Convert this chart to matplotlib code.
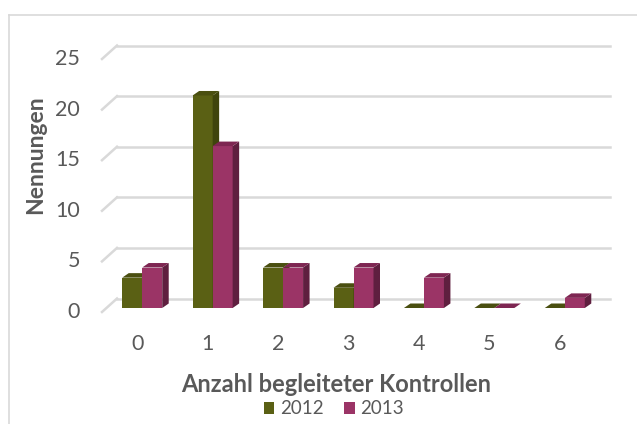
import matplotlib
matplotlib.use("Agg")
import matplotlib.pyplot as plt
from matplotlib.patches import Polygon
from matplotlib.transforms import ScaledTranslation
from matplotlib.lines import Line2D

categories = ["0", "1", "2", "3", "4", "5", "6"]
values_2012 = [3, 21, 4, 2, 0, 0, 0]
values_2013 = [4, 16, 4, 4, 3, 0, 1]
series_names = ["2012", "2013"]
yticks = [0, 5, 10, 15, 20, 25]

FONT = "Lato"
W, H, DPI = 637, 424, 100
fig = plt.figure(figsize=(W / DPI, H / DPI), dpi=DPI)

# axes = front plane of floor
L, R, B, T = 102, 595, 312, 59
ax = fig.add_axes([L / W, 1 - B / H, (R - L) / W, (B - T) / H])
ax.set_xlim(-0.5, len(categories) - 0.5)
ax.set_ylim(0, 25)
ax.axis("off")

pxx = (R - L) / len(categories)   # px per x unit
pxy = (B - T) / 25.0              # px per y unit

grid_c = "#d9d9d9"
wdx, wdy = 15 / pxx, 13.5 / pxy
for v in yticks:
    ax.add_line(Line2D([-0.5 + wdx, 6.5 + wdx], [v + wdy, v + wdy], color=grid_c,
                       lw=1.8, clip_on=False, zorder=1))
    ax.add_line(Line2D([-0.5, -0.5 + wdx], [v, v + wdy], color=grid_c,
                       lw=1.8, clip_on=False, zorder=1))
    ax.text(-0.5 - 22 / pxx, v, str(v), ha="right", va="center", fontsize=15.5,
            color="#595959", family=FONT)

for i, c in enumerate(categories):
    ax.text(i, -32 / pxy, c, ha="center", va="center", fontsize=15.5,
            color="#595959", family=FONT)

off = ax.transData + ScaledTranslation(5 / DPI, 4 / DPI, fig.dpi_scale_trans)
bw = 20 / pxx
ddx, ddy = 6.5 / pxx, 4.5 / pxy
colors = [("#5a6014", "#4a4f10", "#3f440c"), ("#9b3466", "#7e2652", "#5f1f3f")]

for i in range(len(categories)):
    for s, vals in enumerate([values_2012, values_2013]):
        h = vals[i]
        x0 = i - bw + s * bw
        front, top, side = colors[s]
        if h > 0:
            ax.add_patch(Polygon([(x0, 0), (x0 + bw, 0), (x0 + bw, h), (x0, h)],
                                 closed=True, fc=front, ec="none", transform=off,
                                 clip_on=False, zorder=3))
            ax.add_patch(Polygon([(x0 + bw, 0), (x0 + bw + ddx, ddy), (x0 + bw + ddx, h + ddy),
                                  (x0 + bw, h)], closed=True, fc=side, ec="none",
                                 transform=off, clip_on=False, zorder=3))
        ax.add_patch(Polygon([(x0, h), (x0 + bw, h), (x0 + bw + ddx, h + ddy), (x0 + ddx, h + ddy)],
                             closed=True, fc=top, ec="none", transform=off,
                             clip_on=False, zorder=3))

fig.text(336 / W, 1 - 384 / H, "Anzahl begleiteter Kontrollen",
         ha="center", va="center", fontsize=17, fontweight="bold", color="#595959", family=FONT)
fig.text(36 / W, 1 - 155 / H, "Nennungen", ha="center", va="center", rotation=90,
         fontsize=16.5, fontweight="bold", color="#595959", family=FONT)

# legend
handles = [plt.Rectangle((0, 0), 1, 1, fc=colors[0][0]), plt.Rectangle((0, 0), 1, 1, fc=colors[1][0])]
leg = fig.legend(handles, series_names, loc="center", bbox_to_anchor=(334 / W, 1 - 409 / H),
                 ncol=2, frameon=False, handlelength=0.55, handleheight=0.55, handletextpad=0.3,
                 columnspacing=1.1, prop={"family": FONT, "size": 13.5})
for t in leg.get_texts():
    t.set_color("#595959")

# chart border
fig.add_artist(Line2D([9 / W, 9 / W], [0, 1 - 15 / H], color=grid_c, lw=1.2, transform=fig.transFigure))
fig.add_artist(Line2D([9 / W, 1], [1 - 15 / H, 1 - 15 / H], color=grid_c, lw=1.2, transform=fig.transFigure))

fig.savefig("out.png", dpi=DPI)
